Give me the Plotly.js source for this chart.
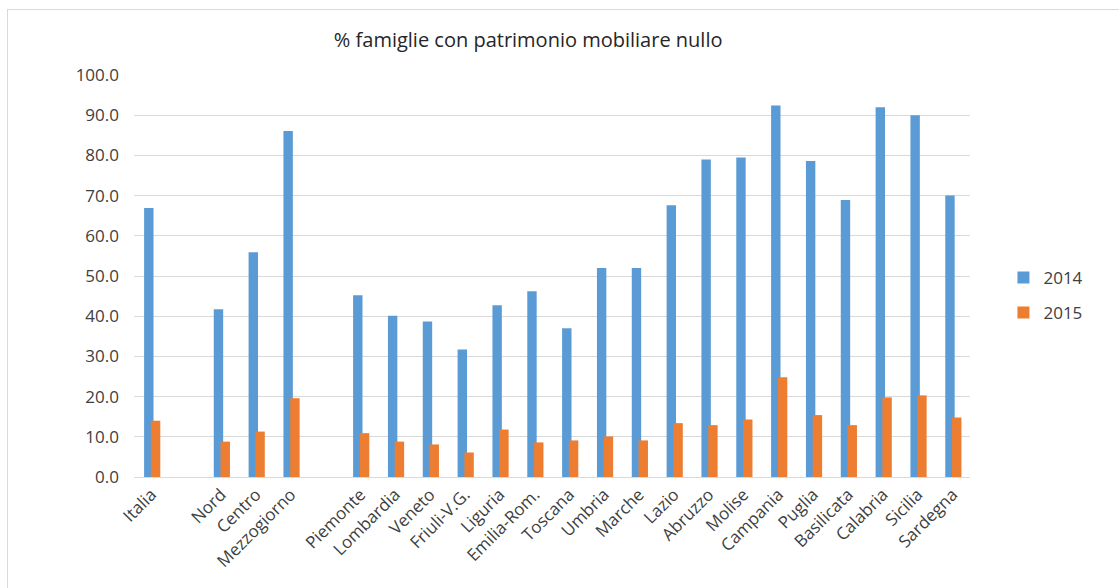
<!DOCTYPE html>
<html>
<head>
<meta charset="utf-8">
<script src="https://cdn.plot.ly/plotly-3.0.1.min.js"></script>
<style>
html,body{margin:0;padding:0;background:#fff;}
#wrap{position:relative;width:1119px;height:588px;overflow:hidden;}
#chart{position:absolute;left:0;top:0;width:1119px;height:588px;}
#frame{position:absolute;left:7px;top:9px;width:1200px;height:700px;border:1px solid #d9d9d9;pointer-events:none;}
</style>
</head>
<body>
<div id="wrap"><div id="chart"></div><div id="frame"></div></div>
<script>
const categories = ["Italia", " ", "Nord", "Centro", "Mezzogiorno", "  ", "Piemonte", "Lombardia", "Veneto", "Friuli-V.G.", "Liguria", "Emilia-Rom.", "Toscana", "Umbria", "Marche", "Lazio", "Abruzzo", "Molise", "Campania", "Puglia", "Basilicata", "Calabria", "Sicilia", "Sardegna"];
const values2014 = [66.9, null, 41.7, 55.9, 86.1, null, 45.2, 40.1, 38.7, 31.7, 42.7, 46.2, 37.0, 52.0, 52.0, 67.6, 79.0, 79.5, 92.4, 78.6, 68.9, 92.0, 90.0, 70.0];
const values2015 = [14.0, null, 8.8, 11.3, 19.6, null, 10.9, 8.8, 8.1, 6.1, 11.8, 8.6, 9.1, 10.1, 9.1, 13.4, 12.9, 14.3, 24.8, 15.4, 12.9, 19.8, 20.3, 14.8];
const seriesNames = ["2014", "2015"];
const yTickVals = [0, 10, 20, 30, 40, 50, 60, 70, 80, 90, 100];

const FONT = "'Open Sans', sans-serif";
const traces = [
  {type: "bar", name: seriesNames[0], x: categories, y: values2014,
   marker: {color: "#5B9BD5", line: {width: 0}}, width: 0.27, offset: -0.21,
   legendgroup: "a"},
  {type: "bar", name: seriesNames[1], x: categories, y: values2015,
   marker: {color: "#ED7D31", line: {width: 0}}, width: 0.27, offset: -0.015,
   legendgroup: "b"}
];
const layout = {
  width: 1119, height: 588,
  margin: {l: 134, r: 149, t: 75, b: 111},
  paper_bgcolor: "#fff", plot_bgcolor: "#fff",
  barmode: "overlay",
  font: {family: FONT, color: "#404040", size: 17},
  title: {text: "% famiglie con patrimonio mobiliare nullo", x: 0.472, xanchor: "center",
          y: 0.932, yanchor: "middle", font: {family: FONT, size: 20, color: "#262626"}},
  xaxis: {type: "category", categoryorder: "array", categoryarray: categories,
          tickangle: -45, showgrid: false, showline: true, linecolor: "#d9d9d9", linewidth: 1,
          ticks: "", tickfont: {family: FONT, size: 17, color: "#404040"}, fixedrange: true},
  yaxis: {range: [0, 100], tickvals: yTickVals, tickformat: ".1f", showgrid: true,
          gridcolor: "#d9d9d9", gridwidth: 1, zeroline: false, showline: false, ticks: "",
          ticklabelstandoff: 14, tickfont: {family: FONT, size: 17, color: "#404040"}},
  legend: {x: 1.04, xanchor: "left", y: 0.54, yanchor: "top", traceorder: "grouped",
           tracegroupgap: 10, font: {family: FONT, size: 17, color: "#404040"},
           bgcolor: "rgba(0,0,0,0)"},
  showlegend: true
};
Plotly.newPlot("chart", traces, layout, {displayModeBar: false, staticPlot: true});
</script>
</body>
</html>
